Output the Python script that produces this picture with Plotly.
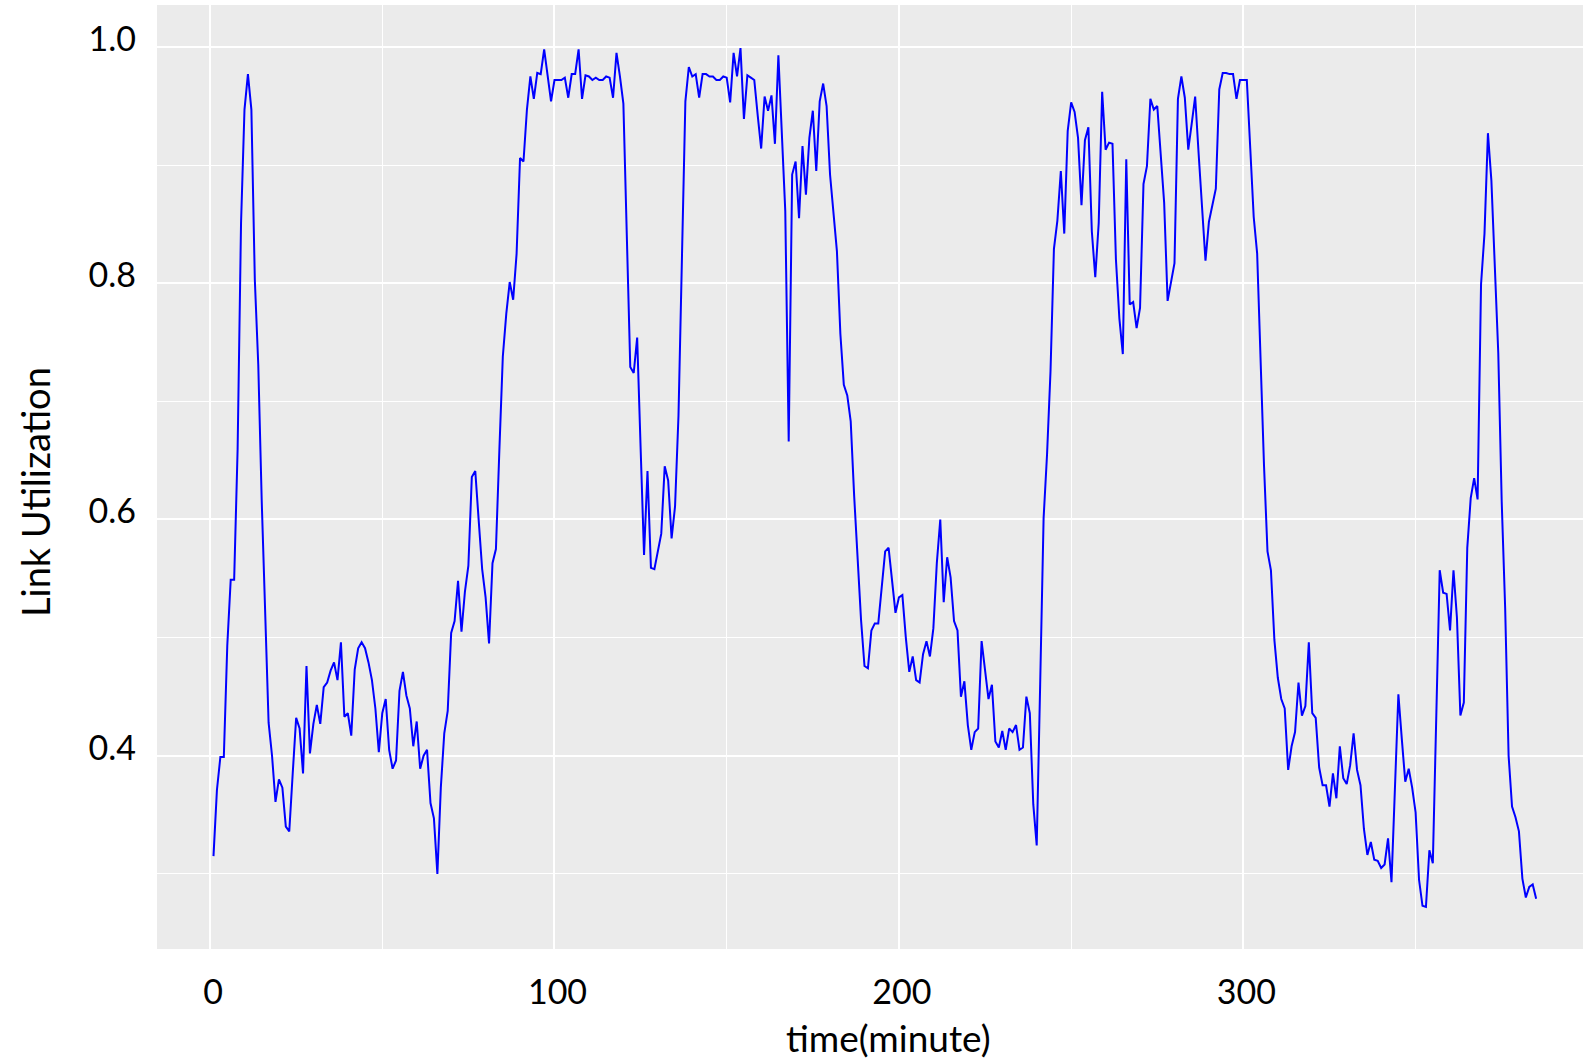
import plotly.graph_objects as go

minutes = list(range(1, 386))
utilization = [
    0.315, 0.371, 0.399, 0.399, 0.493, 0.549, 0.549, 0.659, 0.851, 0.947,
    0.977, 0.947, 0.803, 0.731, 0.616, 0.520, 0.428, 0.400, 0.361, 0.380,
    0.373, 0.340, 0.336, 0.385, 0.432, 0.423, 0.385, 0.476, 0.402, 0.427,
    0.443, 0.427, 0.458, 0.462, 0.472, 0.479, 0.464, 0.496, 0.433, 0.436,
    0.417, 0.473, 0.491, 0.496, 0.491, 0.479, 0.464, 0.440, 0.403, 0.436,
    0.448, 0.405, 0.389, 0.396, 0.455, 0.471, 0.451, 0.440, 0.408, 0.429,
    0.389, 0.400, 0.405, 0.360, 0.347, 0.300, 0.373, 0.419, 0.438, 0.504,
    0.514, 0.548, 0.505, 0.539, 0.561, 0.636, 0.641, 0.599, 0.558, 0.534,
    0.495, 0.563, 0.575, 0.659, 0.738, 0.774, 0.801, 0.786, 0.825, 0.906,
    0.903, 0.947, 0.975, 0.956, 0.978, 0.977, 0.998, 0.976, 0.954, 0.972,
    0.972, 0.972, 0.974, 0.957, 0.977, 0.977, 0.998, 0.956, 0.976, 0.975,
    0.972, 0.974, 0.972, 0.972, 0.975, 0.974, 0.957, 0.995, 0.975, 0.952,
    0.840, 0.729, 0.724, 0.754, 0.661, 0.570, 0.641, 0.559, 0.558, 0.573,
    0.588, 0.645, 0.633, 0.584, 0.611, 0.688, 0.830, 0.954, 0.983, 0.975,
    0.977, 0.957, 0.977, 0.977, 0.975, 0.975, 0.972, 0.972, 0.975, 0.974,
    0.953, 0.995, 0.975, 0.999, 0.939, 0.976, 0.974, 0.972, 0.942, 0.914,
    0.958, 0.946, 0.959, 0.918, 0.993, 0.925, 0.861, 0.666, 0.892, 0.903,
    0.855, 0.916, 0.875, 0.923, 0.946, 0.895, 0.954, 0.969, 0.950, 0.892,
    0.861, 0.827, 0.757, 0.714, 0.705, 0.683, 0.620, 0.565, 0.515, 0.476,
    0.474, 0.506, 0.512, 0.512, 0.544, 0.573, 0.576, 0.547, 0.521, 0.534,
    0.536, 0.500, 0.471, 0.484, 0.464, 0.462, 0.486, 0.497, 0.484, 0.508,
    0.563, 0.600, 0.530, 0.568, 0.551, 0.514, 0.506, 0.450, 0.463, 0.426,
    0.405, 0.420, 0.423, 0.497, 0.470, 0.448, 0.460, 0.412, 0.407, 0.421,
    0.405, 0.423, 0.420, 0.426, 0.405, 0.407, 0.450, 0.436, 0.359, 0.324,
    0.460, 0.601, 0.655, 0.725, 0.829, 0.853, 0.895, 0.842, 0.929, 0.953,
    0.945, 0.923, 0.866, 0.921, 0.932, 0.844, 0.805, 0.851, 0.962, 0.913,
    0.919, 0.918, 0.820, 0.770, 0.740, 0.905, 0.782, 0.784, 0.762, 0.779,
    0.884, 0.899, 0.956, 0.947, 0.950, 0.910, 0.868, 0.785, 0.801, 0.817,
    0.956, 0.975, 0.957, 0.913, 0.935, 0.958, 0.910, 0.865, 0.819, 0.852,
    0.866, 0.880, 0.964, 0.978, 0.978, 0.977, 0.977, 0.956, 0.972, 0.972,
    0.972, 0.914, 0.856, 0.825, 0.731, 0.645, 0.573, 0.557, 0.498, 0.466,
    0.448, 0.440, 0.388, 0.408, 0.420, 0.462, 0.434, 0.442, 0.496, 0.436,
    0.432, 0.390, 0.375, 0.375, 0.357, 0.385, 0.364, 0.408, 0.381, 0.376,
    0.392, 0.419, 0.388, 0.375, 0.338, 0.316, 0.327, 0.312, 0.311, 0.305,
    0.308, 0.330, 0.293, 0.373, 0.452, 0.414, 0.378, 0.389, 0.373, 0.352,
    0.295, 0.273, 0.272, 0.320, 0.309, 0.433, 0.557, 0.538, 0.537, 0.506,
    0.557, 0.517, 0.434, 0.445, 0.576, 0.618, 0.635, 0.617, 0.799, 0.842,
    0.927, 0.887, 0.814, 0.741, 0.615, 0.525, 0.400, 0.357, 0.348, 0.336,
    0.296, 0.280, 0.289, 0.291, 0.279,
]

x_ticks = [0, 100, 200, 300]
y_ticks = [0.4, 0.6, 0.8, 1.0]
x_title = "time(minute)"
y_title = "Link Utilization"

FONT = "Lato"

fig = go.Figure()
fig.add_trace(go.Scatter(
    x=minutes, y=utilization, mode="lines",
    line=dict(color="#0000FF", width=2),
    showlegend=False, hoverinfo="skip",
))

fig.update_layout(
    width=1583, height=1061,
    margin=dict(l=157, r=0, t=5, b=112),
    paper_bgcolor="white",
    plot_bgcolor="#EBEBEB",
    font=dict(family=FONT, size=34, color="black"),
    xaxis=dict(
        range=[-15.4, 398.6],
        tickvals=x_ticks,
        ticktext=[str(v) for v in x_ticks],
        showgrid=True, gridcolor="white", gridwidth=2,
        zeroline=False, showline=False, ticks="",
        ticklabelstandoff=20,
        ticklabelshift=3,
        tickfont=dict(family=FONT, size=34, color="black"),
        minor=dict(dtick=50, tick0=50, showgrid=True, gridcolor="white", gridwidth=1),
    ),
    yaxis=dict(
        range=[0.2364, 1.0355],
        tickvals=y_ticks,
        ticktext=["%.1f" % v for v in y_ticks],
        showgrid=True, gridcolor="white", gridwidth=2,
        zeroline=False, showline=False, ticks="",
        ticklabelstandoff=20,
        ticklabelshift=-8,
        tickfont=dict(family=FONT, size=34, color="black"),
        minor=dict(dtick=0.1, tick0=0.3, showgrid=True, gridcolor="white", gridwidth=1),
    ),
    annotations=[
        dict(text=x_title, xref="paper", yref="paper", x=(888 - 157) / (1583 - 157), y=(1061 - 1037 - 112) / (1061 - 5 - 112),
             xanchor="center", yanchor="middle", showarrow=False,
             font=dict(family=FONT, size=37, color="black")),
        dict(text=y_title, xref="paper", yref="paper", x=(35 - 157) / (1583 - 157), y=(1061 - 492 - 112) / (1061 - 5 - 112),
             xanchor="center", yanchor="middle", textangle=-90, showarrow=False,
             font=dict(family=FONT, size=38, color="black")),
    ],
)

fig.write_html("out.html")
